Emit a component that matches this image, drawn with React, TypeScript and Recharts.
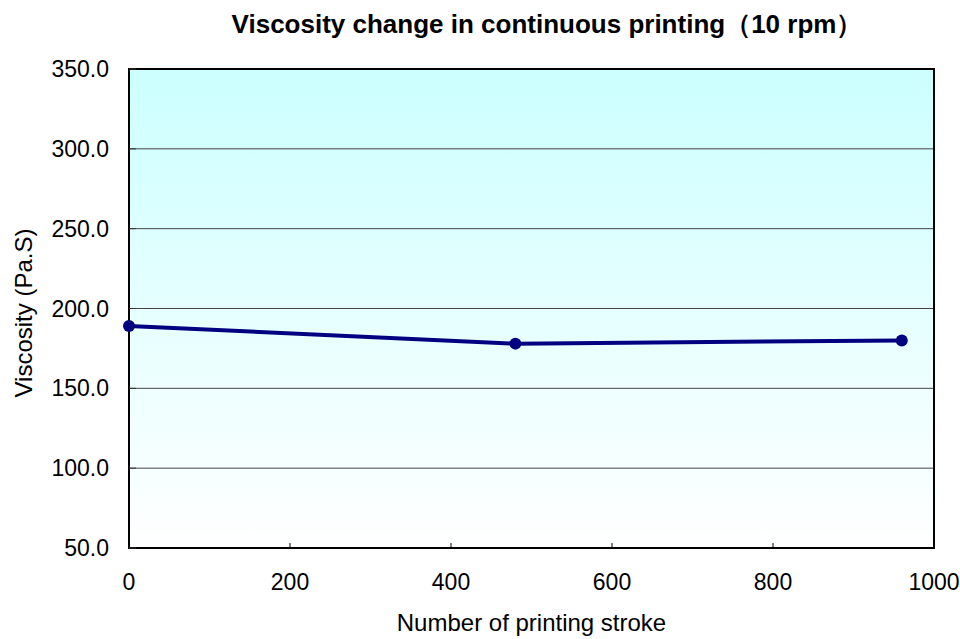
import { CartesianGrid, Label, Line, LineChart, ReferenceArea, XAxis, YAxis } from 'recharts'

const strokes = [0, 480, 960]
const viscosity = [189, 178, 180]
const xTicks = [0, 200, 400, 600, 800, 1000]
const yTicks = [50, 100, 150, 200, 250, 300, 350]

const data = strokes.map((s, i) => ({ stroke: s, viscosity: viscosity[i] }))

const FONT = '"Liberation Sans", Arial, sans-serif'

const XTick = (props: any) => {
  const { x, y, payload } = props
  return (
    <g>
      <line x1={x} x2={x} y1={y} y2={y - 5} stroke="#000" strokeWidth={1} />
      <text x={x} y={y + 42} textAnchor="middle" fontSize={23} fontFamily={FONT} fill="#000">
        {payload.value}
      </text>
    </g>
  )
}

const YTick = (props: any) => {
  const { x, y, payload } = props
  return (
    <g>
      <line x1={x} x2={x + 7} y1={y} y2={y} stroke="#333" strokeWidth={1} />
      <text x={x - 20} y={y + 8} textAnchor="end" fontSize={23} fontFamily={FONT} fill="#000">
        {Number(payload.value).toFixed(1)}
      </text>
    </g>
  )
}

export default function App() {
  return (
    <div style={{ position: 'absolute', left: 0, top: 0, width: 960, height: 639, background: '#fff' }}>
      <div
        style={{
          position: 'absolute', left: 0, width: 960, top: 8, textAlign: 'center',
          paddingLeft: 134, boxSizing: 'border-box',
          fontFamily: FONT, fontWeight: 'bold', fontSize: 26, lineHeight: '32px', color: '#000',
        }}
      >
        Viscosity change in continuous printing（10 rpm）
      </div>
      <LineChart width={960} height={639} data={data} margin={{ top: 69, right: 26, bottom: 0, left: 0 }}>
        <defs>
          <linearGradient id="bg" x1="0" y1="0" x2="0" y2="1">
            <stop offset="0%" stopColor="#CCFFFF" />
            <stop offset="100%" stopColor="#FFFFFF" />
          </linearGradient>
        </defs>
        <CartesianGrid vertical={false} stroke="#444" strokeWidth={1} fill="url(#bg)" fillOpacity={1} />
        <XAxis
          dataKey="stroke" type="number" domain={[0, 1000]} ticks={xTicks} height={91}
          axisLine={{ stroke: '#000', strokeWidth: 2 }} tickLine={false} tickSize={0} tickMargin={0}
          tick={<XTick />} interval={0}
        >
          <Label
            value="Number of printing stroke" position="insideBottom" offset={8}
            style={{ fontSize: 24, fontFamily: FONT, fill: '#000' }}
          />
        </XAxis>
        <YAxis
          type="number" domain={[50, 350]} ticks={yTicks} width={129}
          axisLine={{ stroke: '#000', strokeWidth: 2 }} tickLine={false} tickSize={0} tickMargin={0}
          tick={<YTick />} interval={0}
        >
          <Label
            content={() => (
              <text transform="translate(23,313) rotate(-90)" textAnchor="middle" dominantBaseline="central"
                fontSize={24} fontFamily={FONT} fill="#000">
                Viscosity (Pa.S)
              </text>
            )}
          />
        </YAxis>
        <ReferenceArea x1={0} x2={1000} y1={50} y2={350} fill="none" stroke="#000" strokeWidth={2} ifOverflow="visible" />
        <Line
          type="linear" dataKey="viscosity" stroke="#000080" strokeWidth={4}
          dot={{ r: 6, fill: '#000080', stroke: 'none' }} isAnimationActive={false}
        />
      </LineChart>
    </div>
  )
}
